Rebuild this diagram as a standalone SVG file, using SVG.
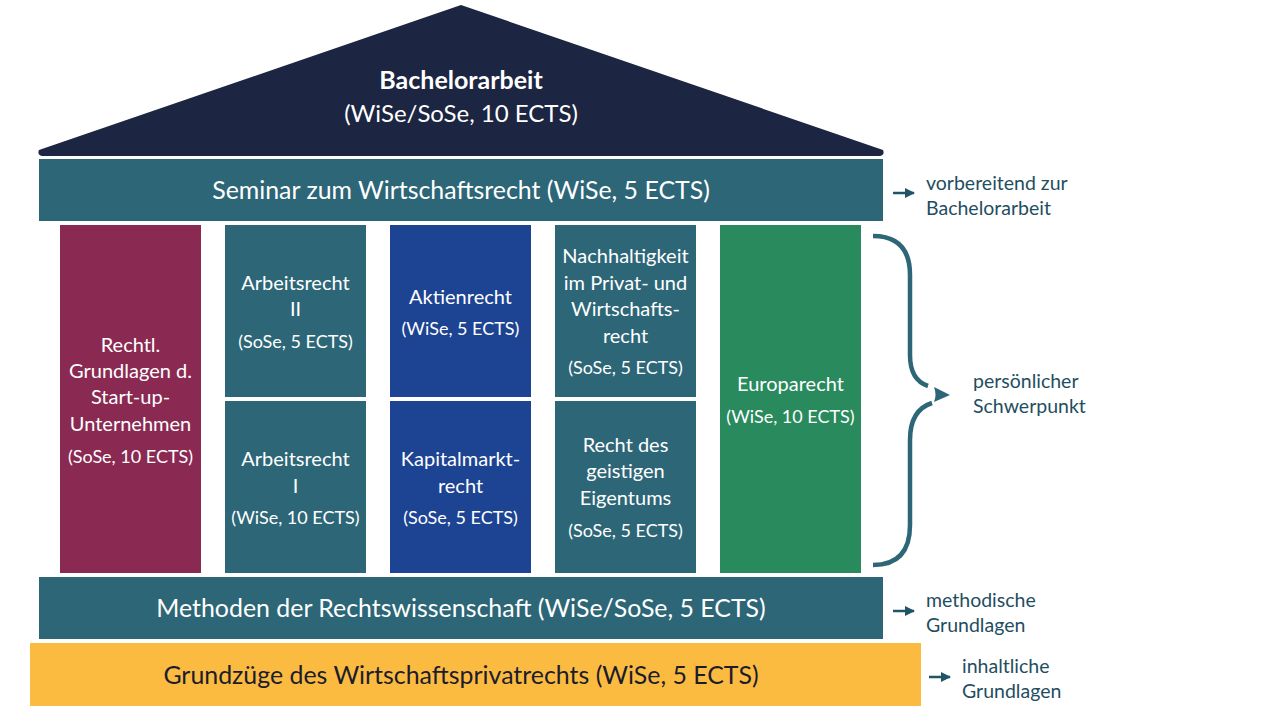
<svg xmlns="http://www.w3.org/2000/svg" width="1273" height="716" viewBox="0 0 1273 716">
<defs>
<marker id="ah" viewBox="0 0 10 10" refX="9" refY="5" markerWidth="4" markerHeight="4" orient="auto" markerUnits="strokeWidth"><path d="M0,0 L10,5 L0,10 z" fill="#1f5567"/></marker>
</defs>
<style>
text{font-family:Lato,"Open Sans",sans-serif;text-anchor:middle;fill:#ffffff}
.b{font-size:20px}
.s{font-size:18px}
.bar{font-size:24.9px}
.side{font-size:19.5px;fill:#1f4e5f;text-anchor:start}
.teal{fill:#2d6677}
.arr{stroke:#1f5567;stroke-width:2.5;fill:none}
</style>
<rect width="1273" height="716" fill="#ffffff"/>
<g id="roof">
<path d="M461,5 L883,150 Q885,155 880,156 L42,156 Q37,155 39,150 Z" fill="#1c2541"/>
<text x="461" y="89" style="font-size:25px;font-weight:bold">Bachelorarbeit</text>
<text x="461" y="122" style="font-size:24px">(WiSe/SoSe, 10 ECTS)</text>
</g>
<g id="seminar">
<rect x="39" y="159" width="844" height="62" class="teal"/>
<text x="461" y="199" class="bar">Seminar zum Wirtschaftsrecht (WiSe, 5 ECTS)</text>
</g>
<g id="startup">
<rect x="60" y="225" width="141" height="348" fill="#8a2a52"/>
<text x="130.5" y="352" class="b">Rechtl.</text>
<text x="130.5" y="378" class="b">Grundlagen d.</text>
<text x="130.5" y="404" class="b">Start-up-</text>
<text x="130.5" y="431" class="b">Unternehmen</text>
<text x="130.5" y="463" class="s">(SoSe, 10 ECTS)</text>
</g>
<g id="arbeitsrecht2">
<rect x="225" y="225" width="141" height="172" class="teal"/>
<text x="295.5" y="290" class="b">Arbeitsrecht</text>
<text x="295.5" y="316" class="b">II</text>
<text x="295.5" y="348" class="s">(SoSe, 5 ECTS)</text>
</g>
<g id="arbeitsrecht1">
<rect x="225" y="401" width="141" height="172" class="teal"/>
<text x="295.5" y="466" class="b">Arbeitsrecht</text>
<text x="295.5" y="493" class="b">I</text>
<text x="295.5" y="524" class="s">(WiSe, 10 ECTS)</text>
</g>
<g id="aktienrecht">
<rect x="390" y="225" width="141" height="172" fill="#1d4393"/>
<text x="460.5" y="304" class="b">Aktienrecht</text>
<text x="460.5" y="335" class="s">(WiSe, 5 ECTS)</text>
</g>
<g id="kapitalmarktrecht">
<rect x="390" y="401" width="141" height="172" fill="#1d4393"/>
<text x="460.5" y="466" class="b">Kapitalmarkt-</text>
<text x="460.5" y="493" class="b">recht</text>
<text x="460.5" y="524" class="s">(SoSe, 5 ECTS)</text>
</g>
<g id="nachhaltigkeit">
<rect x="555" y="225" width="141" height="172" class="teal"/>
<text x="625.5" y="263" class="b">Nachhaltigkeit</text>
<text x="625.5" y="290" class="b">im Privat- und</text>
<text x="625.5" y="316" class="b">Wirtschafts-</text>
<text x="625.5" y="343" class="b">recht</text>
<text x="625.5" y="374" class="s">(SoSe, 5 ECTS)</text>
</g>
<g id="geistiges-eigentum">
<rect x="555" y="401" width="141" height="172" class="teal"/>
<text x="625.5" y="452" class="b">Recht des</text>
<text x="625.5" y="478" class="b">geistigen</text>
<text x="625.5" y="505" class="b">Eigentums</text>
<text x="625.5" y="537" class="s">(SoSe, 5 ECTS)</text>
</g>
<g id="europarecht">
<rect x="720" y="225" width="141" height="348" fill="#288a5d"/>
<text x="790.5" y="391" class="b">Europarecht</text>
<text x="790.5" y="423" class="s">(WiSe, 10 ECTS)</text>
</g>
<g id="methoden">
<rect x="39" y="577" width="844" height="62" class="teal"/>
<text x="461" y="617" class="bar">Methoden der Rechtswissenschaft (WiSe/SoSe, 5 ECTS)</text>
</g>
<g id="grundzuege">
<rect x="30" y="643" width="891" height="63" fill="#fbbb40"/>
<text x="461" y="684" class="bar" style="fill:#1c1c2c">Grundzüge des Wirtschaftsprivatrechts (WiSe, 5 ECTS)</text>
</g>
<g id="connectors">
<line x1="893" y1="193" x2="914" y2="193" class="arr" marker-end="url(#ah)"/>
<line x1="893" y1="611" x2="914" y2="611" class="arr" marker-end="url(#ah)"/>
<line x1="929" y1="677" x2="950" y2="677" class="arr" marker-end="url(#ah)"/>
<path d="M873,236 Q910,236 910,275 L910,355 Q910,380 928,386" fill="none" stroke="#2d6677" stroke-width="4.5"/>
<path d="M932,403 Q910,410 910,440 L910,525 Q910,565 873,565" fill="none" stroke="#2d6677" stroke-width="4.5"/>
<path d="M934,387 L950,395 L934,402 Q937,395 934,387 Z" fill="#2d6677"/>
</g>
<g id="labels">
<text x="926" y="190" class="side">vorbereitend zur</text>
<text x="926" y="215" class="side">Bachelorarbeit</text>
<text x="973" y="388" class="side">persönlicher</text>
<text x="973" y="413" class="side">Schwerpunkt</text>
<text x="926" y="607" class="side">methodische</text>
<text x="926" y="632" class="side">Grundlagen</text>
<text x="962" y="673" class="side">inhaltliche</text>
<text x="962" y="698" class="side">Grundlagen</text>
</g>
</svg>
